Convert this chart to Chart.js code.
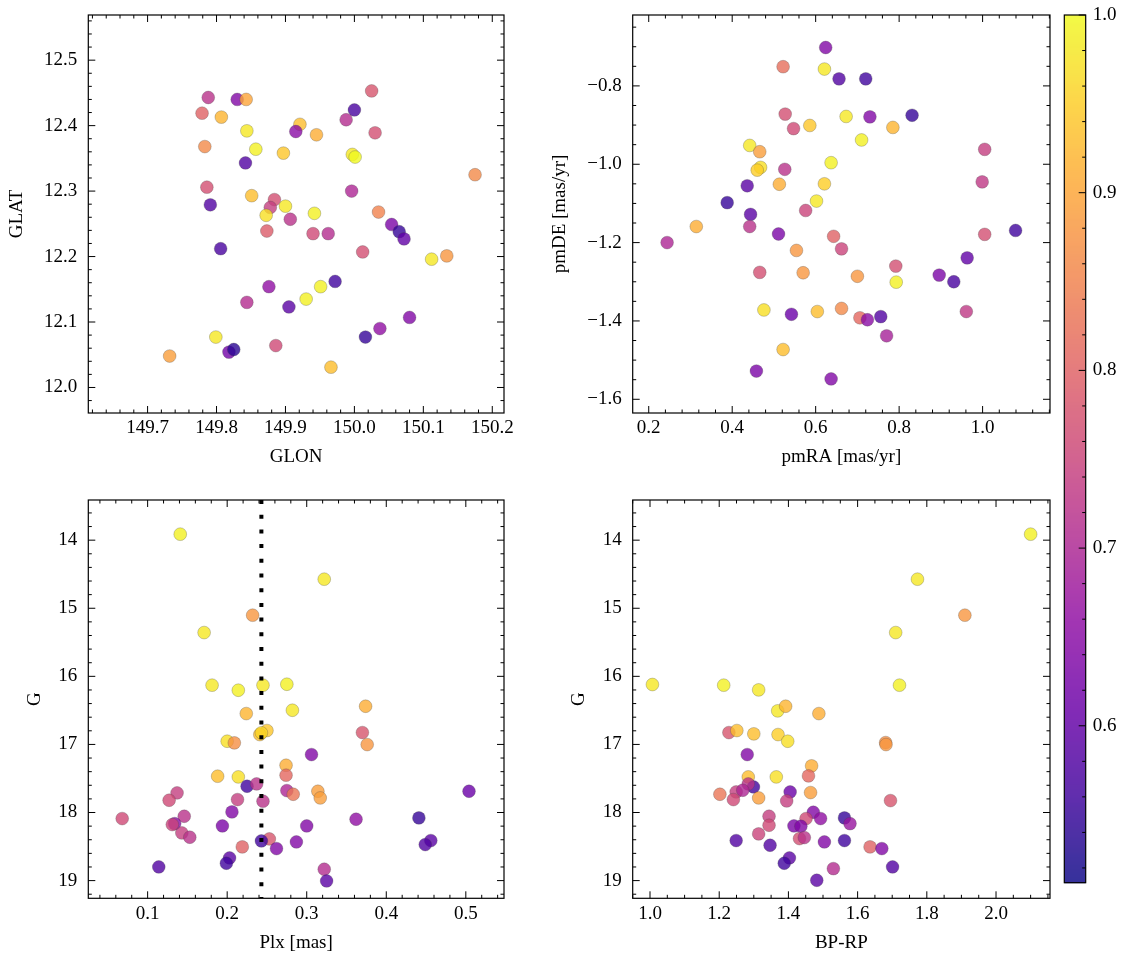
<!DOCTYPE html>
<html>
<head>
<meta charset="utf-8">
<script src="https://cdn.jsdelivr.net/npm/chart.js@4.4.0/dist/chart.umd.min.js"></script>
<style>
  body { margin: 0; background: #fff; width: 1133px; height: 965px; position: relative; overflow: hidden; }
  canvas { position: absolute; }
</style>
</head>
<body>
<canvas id="posChart" width="528" height="467" style="left:6px;top:1px;width:528px;height:467px"></canvas>
<canvas id="pmChart" width="531" height="467" style="left:549px;top:1px;width:531px;height:467px"></canvas>
<canvas id="plxChart" width="510" height="468" style="left:24px;top:486px;width:510px;height:468px"></canvas>
<canvas id="cmdChart" width="512" height="468" style="left:568px;top:486px;width:512px;height:468px"></canvas>
<canvas id="cbarChart" width="73" height="895" style="left:1060px;top:1px;width:73px;height:895px"></canvas>
<script>
// Membership probability sample
const glon = [149.788, 149.830, 149.843, 149.779, 149.807, 150.025, 150.000, 149.988, 149.921, 149.915, 149.945, 149.844, 150.030, 149.783, 149.857, 149.897, 149.997, 150.001, 149.842, 150.175, 149.786, 149.996, 149.851, 149.884, 149.791, 149.900, 149.878, 149.872, 149.942, 150.035, 149.907, 150.054, 150.065, 150.072, 149.873, 149.940, 149.962, 150.012, 149.806, 150.112, 150.134, 149.972, 149.951, 149.876, 149.930, 149.844, 149.905, 150.080, 150.037, 150.016, 149.799, 149.886, 149.818, 149.825, 149.732, 149.966];
const glat = [12.443, 12.440, 12.440, 12.419, 12.413, 12.453, 12.424, 12.409, 12.402, 12.391, 12.386, 12.392, 12.389, 12.368, 12.364, 12.358, 12.356, 12.352, 12.343, 12.325, 12.306, 12.300, 12.293, 12.287, 12.279, 12.277, 12.275, 12.263, 12.266, 12.268, 12.257, 12.249, 12.238, 12.227, 12.239, 12.235, 12.235, 12.207, 12.212, 12.196, 12.201, 12.162, 12.154, 12.154, 12.135, 12.130, 12.123, 12.107, 12.090, 12.077, 12.077, 12.064, 12.054, 12.058, 12.048, 12.031];
const probPos = [0.72, 0.64, 0.90, 0.80, 0.92, 0.78, 0.57, 0.71, 0.93, 0.65, 0.91, 0.98, 0.77, 0.86, 0.99, 0.94, 0.98, 1.00, 0.58, 0.86, 0.77, 0.70, 0.93, 0.77, 0.58, 0.98, 0.74, 0.97, 0.99, 0.85, 0.72, 0.63, 0.55, 0.60, 0.79, 0.76, 0.71, 0.77, 0.57, 0.98, 0.88, 0.56, 0.99, 0.66, 0.99, 0.71, 0.59, 0.64, 0.66, 0.55, 0.98, 0.76, 0.62, 0.54, 0.89, 0.93];

const pmra = [0.624, 0.522, 0.621, 0.656, 0.720, 0.527, 0.673, 0.730, 0.831, 0.547, 0.586, 0.785, 0.710, 0.442, 0.466, 1.005, 0.637, 0.526, 0.468, 0.460, 0.436, 0.513, 0.621, 0.999, 0.388, 0.602, 0.576, 0.444, 0.314, 0.442, 0.244, 0.511, 0.643, 1.005, 1.079, 0.662, 0.554, 0.963, 0.466, 0.570, 0.700, 0.792, 0.793, 0.896, 0.931, 0.476, 0.542, 0.604, 0.662, 0.706, 0.724, 0.756, 0.961, 0.770, 0.522, 0.458, 0.637];
const pmde = [-0.702, -0.751, -0.757, -0.782, -0.782, -0.872, -0.878, -0.879, -0.875, -0.909, -0.901, -0.906, -0.938, -0.952, -0.968, -0.962, -0.996, -1.013, -1.008, -1.015, -1.055, -1.051, -1.050, -1.045, -1.098, -1.094, -1.118, -1.128, -1.159, -1.159, -1.200, -1.178, -1.184, -1.179, -1.169, -1.216, -1.220, -1.239, -1.276, -1.277, -1.286, -1.260, -1.301, -1.283, -1.300, -1.372, -1.383, -1.376, -1.368, -1.392, -1.397, -1.389, -1.376, -1.438, -1.473, -1.528, -1.548];
const probPm = [0.64, 0.82, 0.98, 0.58, 0.56, 0.77, 0.98, 0.64, 0.55, 0.76, 0.94, 0.92, 0.99, 0.98, 0.89, 0.74, 0.99, 0.72, 0.97, 0.95, 0.59, 0.91, 0.95, 0.73, 0.55, 0.98, 0.75, 0.59, 0.91, 0.72, 0.70, 0.63, 0.80, 0.77, 0.56, 0.75, 0.88, 0.60, 0.77, 0.88, 0.88, 0.77, 0.99, 0.63, 0.57, 0.97, 0.61, 0.93, 0.86, 0.81, 0.65, 0.58, 0.73, 0.69, 0.93, 0.63, 0.64];

const plx = [0.141, 0.322, 0.232, 0.171, 0.181, 0.214, 0.245, 0.275, 0.282, 0.224, 0.374, 0.250, 0.241, 0.243, 0.200, 0.209, 0.370, 0.376, 0.306, 0.274, 0.274, 0.188, 0.214, 0.225, 0.237, 0.137, 0.127, 0.275, 0.283, 0.314, 0.317, 0.213, 0.245, 0.504, 0.068, 0.206, 0.146, 0.134, 0.131, 0.143, 0.153, 0.194, 0.300, 0.362, 0.441, 0.456, 0.449, 0.253, 0.243, 0.262, 0.287, 0.219, 0.203, 0.199, 0.114, 0.322, 0.325];
const gPlx = [13.912, 14.573, 15.102, 15.357, 16.130, 16.204, 16.130, 16.116, 16.498, 16.547, 16.439, 16.796, 16.855, 16.830, 16.953, 16.977, 16.826, 17.002, 17.149, 17.306, 17.452, 17.467, 17.477, 17.614, 17.580, 17.712, 17.820, 17.678, 17.732, 17.688, 17.786, 17.810, 17.834, 17.688, 18.089, 17.991, 18.055, 18.163, 18.177, 18.300, 18.363, 18.197, 18.197, 18.099, 18.079, 18.412, 18.471, 18.388, 18.417, 18.530, 18.432, 18.505, 18.667, 18.745, 18.799, 18.833, 19.005];
const probPlx = [0.99, 0.98, 0.88, 0.98, 0.98, 0.99, 0.98, 0.99, 0.98, 0.92, 0.91, 0.94, 0.93, 0.96, 0.97, 0.87, 0.78, 0.88, 0.64, 0.91, 0.81, 0.93, 0.97, 0.56, 0.72, 0.74, 0.76, 0.70, 0.83, 0.89, 0.89, 0.74, 0.72, 0.61, 0.76, 0.64, 0.72, 0.65, 0.75, 0.74, 0.72, 0.63, 0.64, 0.66, 0.55, 0.59, 0.58, 0.78, 0.56, 0.64, 0.64, 0.80, 0.59, 0.56, 0.58, 0.71, 0.59];
const plxCut = 0.243;

const bprp = [2.100, 1.773, 1.910, 1.710, 1.007, 1.213, 1.314, 1.721, 1.369, 1.392, 1.488, 1.228, 1.251, 1.300, 1.370, 1.398, 1.681, 1.682, 1.281, 1.467, 1.458, 1.284, 1.365, 1.299, 1.284, 1.202, 1.249, 1.241, 1.268, 1.314, 1.464, 1.405, 1.395, 1.695, 1.344, 1.344, 1.314, 1.472, 1.451, 1.493, 1.562, 1.578, 1.416, 1.436, 1.432, 1.446, 1.504, 1.562, 1.249, 1.347, 1.636, 1.670, 1.403, 1.388, 1.701, 1.530, 1.482];
const gCmd = [13.912, 14.573, 15.102, 15.357, 16.120, 16.130, 16.199, 16.130, 16.507, 16.439, 16.547, 16.826, 16.796, 16.845, 16.855, 16.953, 16.973, 17.002, 17.149, 17.315, 17.462, 17.477, 17.477, 17.624, 17.580, 17.732, 17.698, 17.810, 17.673, 17.786, 17.707, 17.698, 17.830, 17.825, 18.055, 18.187, 18.314, 17.996, 18.089, 18.089, 18.079, 18.163, 18.197, 18.202, 18.383, 18.368, 18.432, 18.412, 18.412, 18.481, 18.505, 18.530, 18.667, 18.745, 18.799, 18.824, 18.995];
const probCmd = [0.99, 0.98, 0.88, 0.98, 0.98, 0.99, 0.98, 0.99, 0.98, 0.92, 0.91, 0.78, 0.93, 0.93, 0.95, 0.97, 0.87, 0.88, 0.64, 0.91, 0.81, 0.93, 0.97, 0.56, 0.72, 0.83, 0.74, 0.76, 0.70, 0.89, 0.89, 0.61, 0.74, 0.78, 0.74, 0.76, 0.75, 0.64, 0.76, 0.66, 0.55, 0.67, 0.63, 0.64, 0.77, 0.72, 0.64, 0.56, 0.58, 0.58, 0.80, 0.64, 0.59, 0.56, 0.58, 0.71, 0.59];

// colour range of the colorbar
const cMin = 0.5117, cMax = 1.0;

const FONT = 'Liberation Serif, DejaVu Serif, serif';
const FSIZE = 19;

// plasma colormap, 11 stops
const plasmaStops = [[13, 8, 135], [65, 4, 157], [106, 0, 168], [143, 13, 164], [177, 42, 144], [204, 71, 120], [225, 100, 98], [242, 132, 75], [252, 166, 54], [252, 206, 37], [240, 249, 33]];
const plasma = function (t) {
    t = Math.min(1, Math.max(0, t));
    var f = t * 10, i = Math.min(9, Math.floor(f)), u = f - i;
    var a = plasmaStops[i], b = plasmaStops[i + 1];
    return a.map((v, k) => Math.round(v + (b[k] - v) * u));
};
const colorOf = function (p, alpha) {
    var c = plasma((p - cMin) / (cMax - cMin));
    return 'rgba(' + c[0] + ',' + c[1] + ',' + c[2] + ',' + alpha + ')';
};

const fmt = function (dec) {
    return function (v) { return v.toFixed(dec).replace('-', '\u2212'); };
};

// inward major/minor ticks on all sides + black frame
const frameTicks = {
    id: 'frameTicks',
    afterDraw(chart, args, opts) {
        const {ctx, chartArea: a} = chart;
        ctx.save();
        ctx.strokeStyle = '#000';
        ctx.lineWidth = 1;
        ctx.beginPath();
        (opts.axes || []).forEach(ax => {
            const s = chart.scales[ax.id];
            const lo = Math.min(s.min, s.max), hi = Math.max(s.min, s.max);
            const k0 = Math.ceil(lo / ax.minor - 1e-6), k1 = Math.floor(hi / ax.minor + 1e-6);
            for (let k = k0; k <= k1; k++) {
                const v = k * ax.minor;
                const r = v / ax.major;
                const len = Math.abs(r - Math.round(r)) < 1e-6 ? 7 : 3.5;
                const p = s.getPixelForValue(v);
                if (s.isHorizontal()) {
                    ctx.moveTo(p, a.bottom); ctx.lineTo(p, a.bottom - len);
                    ctx.moveTo(p, a.top); ctx.lineTo(p, a.top + len);
                } else {
                    if (ax.leftSide !== false) { ctx.moveTo(a.left, p); ctx.lineTo(a.left + len, p); }
                    ctx.moveTo(a.right, p); ctx.lineTo(a.right - len, p);
                }
            }
        });
        ctx.stroke();
        ctx.lineWidth = 1.2;
        ctx.strokeRect(a.left, a.top, a.right - a.left, a.bottom - a.top);
        ctx.restore();
    }
};

// gradient fill for the colorbar
const colorbarFill = {
    id: 'colorbarFill',
    beforeDatasetsDraw(chart) {
        const {ctx, chartArea: a} = chart;
        const s = chart.scales.y;
        for (let py = Math.floor(a.top); py < a.bottom; py++) {
            ctx.fillStyle = colorOf(s.getValueForPixel(py + 0.5), 0.8);
            ctx.fillRect(a.left, py, a.right - a.left, 1.2);
        }
    }
};

// fixed axis box sizes, no extra label overflow padding
const fixWidth = function (w) {
    return function (s) { s.width = w; s.paddingTop = 0; s.paddingBottom = 0; };
};
const fixHeight = function (h) {
    return function (s) { s.height = h; s.paddingLeft = 0; s.paddingRight = 0; };
};

const axisOpts = function (o) {
    return {
        type: 'linear',
        min: o.min, max: o.max,
        reverse: !!o.reverse,
        position: o.position,
        grid: { display: false, drawTicks: false },
        border: { display: false },
        title: { display: true, text: o.title, color: '#000', font: { family: FONT, size: FSIZE }, padding: 0 },
        ticks: {
            stepSize: o.step, includeBounds: false, autoSkip: false, maxRotation: 0,
            padding: o.pad, color: '#000', font: { family: FONT, size: FSIZE },
            callback: fmt(o.dec)
        },
        afterFit: o.fit
    };
};

const scatterSet = function (xs, ys, probs) {
    return {
        type: 'scatter',
        order: 1,
        data: xs.map((x, i) => ({ x: x, y: ys[i] })),
        backgroundColor: probs.map(p => colorOf(p, 0.8)),
        borderColor: 'rgba(70,70,70,0.55)',
        borderWidth: 0.5,
        pointRadius: 6.4,
        pointHoverRadius: 6.4
    };
};

const panelChart = function (id, datasets, xo, yo, yWidth, xHeight) {
    xo.position = 'bottom'; yo.position = 'left';
    xo.pad = 4; yo.pad = 11;
    xo.fit = fixHeight(xHeight);
    yo.fit = fixWidth(yWidth);
    return new Chart(document.getElementById(id), {
        type: 'scatter',
        data: { datasets: datasets },
        options: {
            responsive: false,
            animation: false,
            layout: { padding: { top: 14, right: 30, left: 0, bottom: 0 } },
            scales: { x: axisOpts(xo), y: axisOpts(yo) },
            plugins: {
                legend: { display: false },
                tooltip: { enabled: false },
                frameTicks: { axes: [{ id: 'x', major: xo.step, minor: xo.minor }, { id: 'y', major: yo.step, minor: yo.minor }] }
            }
        },
        plugins: [frameTicks]
    });
};

const gMin = 13.41, gMax = 19.26;

panelChart('posChart', [scatterSet(glon, glat, probPos)],
    { min: 149.614, max: 150.217, step: 0.1, minor: 0.02, dec: 1, title: 'GLON' },
    { min: 11.961, max: 12.569, step: 0.1, minor: 0.02, dec: 1, title: 'GLAT' }, 82.3, 55);

panelChart('pmChart', [scatterSet(pmra, pmde, probPm)],
    { min: 0.1616, max: 1.1615, step: 0.2, minor: 0.04, dec: 1, title: 'pmRA [mas/yr]' },
    { min: -1.635, max: -0.619, step: 0.2, minor: 0.05, dec: 1, title: 'pmDE [mas/yr]' }, 83.7, 55);

panelChart('plxChart', [
        {
            type: 'line', order: 0,
            data: [{ x: plxCut, y: gMin }, { x: plxCut, y: gMax }],
            borderColor: '#000', borderWidth: 4, borderDash: [4, 10.7], borderCapStyle: 'butt',
            pointRadius: 0, fill: false
        },
        scatterSet(plx, gPlx, probPlx)
    ],
    { min: 0.0254, max: 0.548, step: 0.1, minor: 0.02, dec: 1, title: 'Plx [mas]' },
    { min: gMin, max: gMax, step: 1, minor: 0.2, dec: 0, reverse: true, title: 'G' }, 64.3, 55.7);

panelChart('cmdChart', [scatterSet(bprp, gCmd, probCmd)],
    { min: 0.95, max: 2.156, step: 0.2, minor: 0.05, dec: 1, title: 'BP-RP' },
    { min: gMin, max: gMax, step: 1, minor: 0.2, dec: 0, reverse: true, title: 'G' }, 64.7, 55.7);

// Colorbar
new Chart(document.getElementById('cbarChart'), {
    type: 'scatter',
    data: { datasets: [] },
    options: {
        responsive: false,
        animation: false,
        layout: { padding: { top: 14, right: 0, left: 4.3, bottom: 13.3 } },
        scales: {
            x: { type: 'linear', display: false, min: 0, max: 1 },
            y: {
                type: 'linear', position: 'right', min: cMin, max: cMax,
                grid: { display: false, drawTicks: false },
                border: { display: false },
                ticks: {
                    stepSize: 0.1, includeBounds: false, autoSkip: false,
                    padding: 7, color: '#000', font: { family: FONT, size: FSIZE },
                    callback: fmt(1)
                },
                afterFit: fixWidth(47.3)
            }
        },
        plugins: {
            legend: { display: false },
            tooltip: { enabled: false },
            frameTicks: { axes: [{ id: 'y', major: 0.1, minor: 0.02, leftSide: false }] }
        }
    },
    plugins: [colorbarFill, frameTicks]
});
</script>
</body>
</html>
